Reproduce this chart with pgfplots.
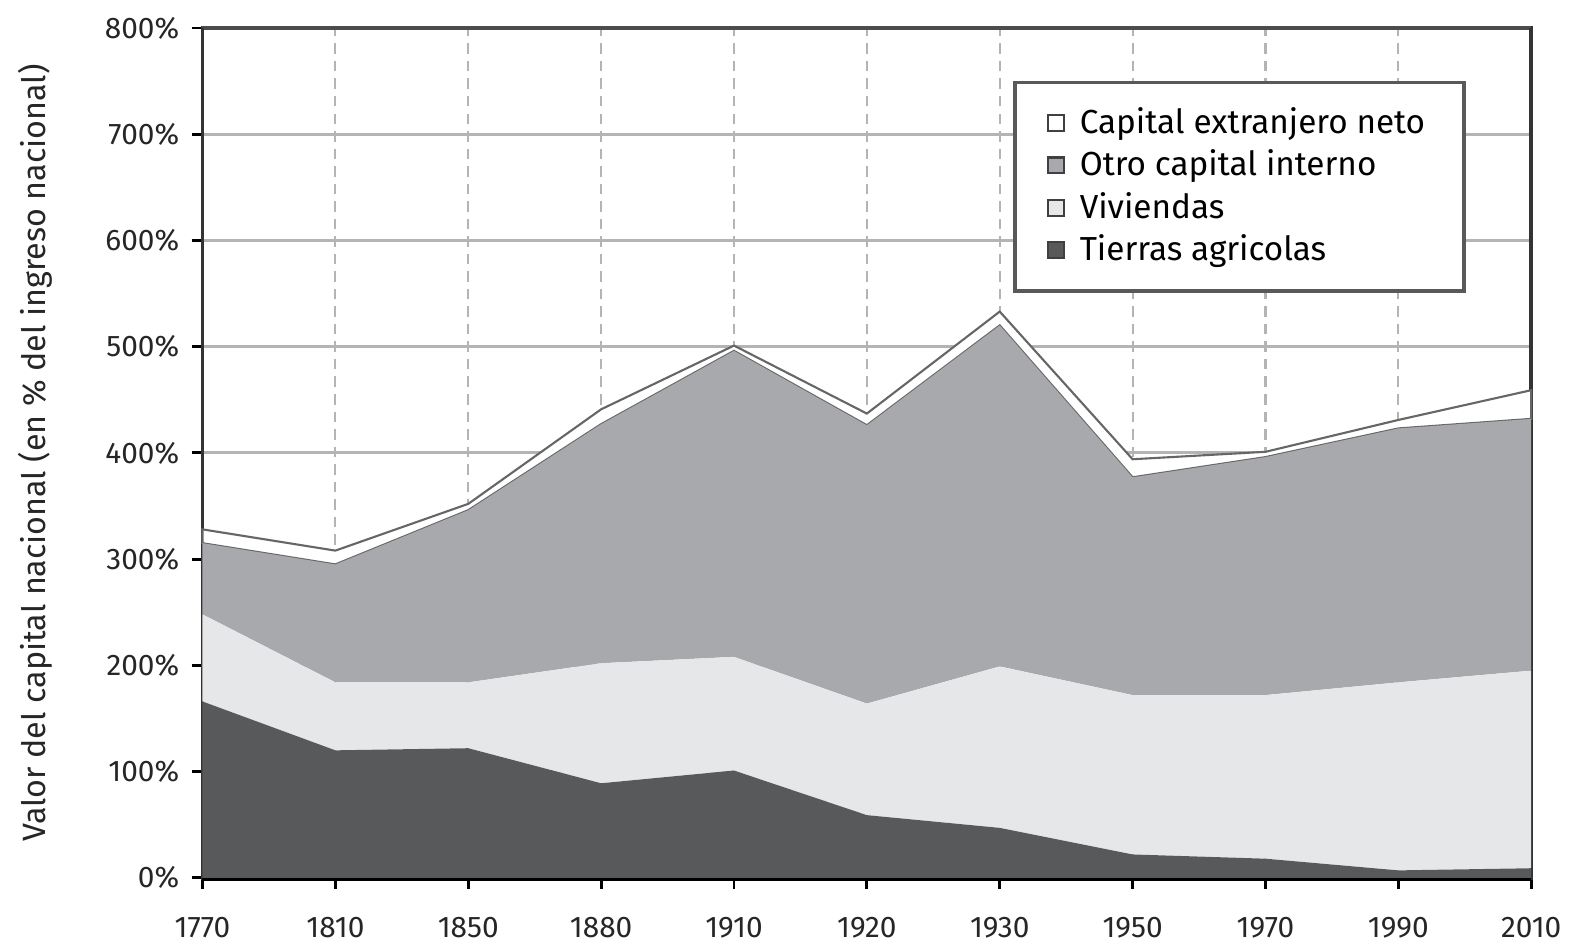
\documentclass[border=0pt]{standalone}
\usepackage{pgfplots}
\pgfplotsset{compat=1.18}
\usepackage{fontspec}
\setmainfont{Fira Sans}
\definecolor{tierras}{HTML}{58595B}
\definecolor{viviendas}{HTML}{E6E7E8}
\definecolor{otro}{HTML}{A7A9AC}
\definecolor{gridc}{HTML}{B4B4B4}
\begin{document}
\begin{tikzpicture}
\begin{axis}[
  scale only axis, width=133.2mm, height=85.2mm,
  xmin=0, xmax=10, ymin=0, ymax=800,
  clip=false,
  xtick={0,1,2,3,4,5,6,7,8,9,10},
  xticklabels={1770,1810,1850,1880,1910,1920,1930,1950,1970,1990,2010},
  ytick={0,100,200,300,400,500,600,700,800},
  yticklabel={\pgfmathprintnumber{\tick}\%},
  /pgf/number format/assume math mode=true,
  ticklabel style={font=\fontsize{8.5}{10}\selectfont, text=black!85},
  xticklabel style={yshift=-2.6mm, inner ysep=0.5pt},
  tick align=outside, major tick length=1.1mm,
  xtick pos=bottom, ytick pos=left,
  tick style={black, line width=0.8pt},
  xmajorgrids, ymajorgrids,
  x grid style={gridc, densely dashed, line width=0.6pt},
  y grid style={gridc, line width=0.9pt},
  axis line style={black!80, line width=1pt},
  ylabel={Valor del capital nacional (en \% del ingreso nacional)},
  ylabel style={font=\fontsize{9.2}{11}\selectfont, text=black!85, yshift=2.8mm},
  stack plots=y,
  legend style={at={(0.610,0.938)}, anchor=north west, draw=black!65, line width=1pt,
    fill=white, inner xsep=3.2mm, inner ysep=2.4mm, row sep=2.6pt,
    nodes={inner ysep=0.3pt},
    font=\fontsize{9.5}{11}\selectfont, cells={anchor=west}},
  legend image code/.code={\draw[#1, draw=black!75, line width=0.6pt] (0mm,-0.8mm) rectangle (1.6mm,0.8mm); \path (2.4mm,0);},
  reverse legend,
]
\addplot[fill=tierras, draw=none] coordinates {
 (0,166) (1,120) (2,122) (3,89) (4,101) (5,59) (6,47) (7,22) (8,18) (9,7) (10,9)} \closedcycle;
\addlegendentry{Tierras agricolas}
\addplot[fill=viviendas, draw=none] coordinates {
 (0,82) (1,64) (2,62) (3,113) (4,107) (5,105) (6,152) (7,150) (8,154) (9,177) (10,186)} \closedcycle;
\addlegendentry{Viviendas}
\addplot[fill=otro, draw=none] coordinates {
 (0,67) (1,111) (2,162) (3,225) (4,288) (5,262) (6,321) (7,205) (8,224) (9,239) (10,237)} \closedcycle;
\addlegendentry{Otro capital interno}
\addplot[fill=white, draw=black!60, line width=0.6pt] coordinates {
 (0,13) (1,13) (2,6) (3,14) (4,5) (5,11) (6,13) (7,17) (8,5) (9,8) (10,27)} \closedcycle;
\addlegendentry{Capital extranjero neto}
\draw[black!80, line width=1pt] (rel axis cs:0,0) -- (rel axis cs:0,1);
\draw[black!80, line width=1pt] (rel axis cs:1,0) -- (rel axis cs:1,1);
\draw[black!70, line width=1pt] (rel axis cs:0,1) -- (rel axis cs:1,1);
\draw[black, line width=1.6pt] (rel axis cs:0,0) -- (rel axis cs:1,0);
\path (rel axis cs:-0.1524,-0.0763) rectangle (rel axis cs:1.0285,1.0329);
\end{axis}
\end{tikzpicture}
\end{document}
